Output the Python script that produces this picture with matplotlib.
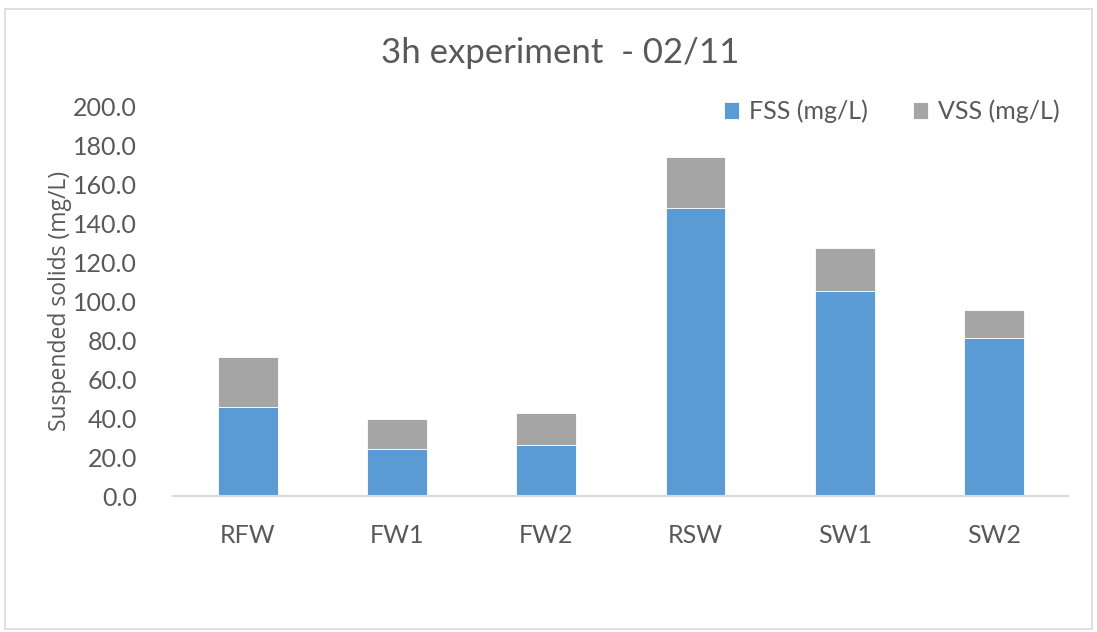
import matplotlib.pyplot as plt
from matplotlib.patches import Rectangle
import numpy as np

# Data
samples = ['RFW', 'FW1', 'FW2', 'RSW', 'SW1', 'SW2']
fss = [45.8, 24.3, 26.4, 147.9, 105.1, 81.0]
vss = [25.3, 15.0, 16.3, 26.2, 22.1, 14.4]

plt.rcParams['font.family'] = ['Lato', 'DejaVu Sans']
text_col = '#595959'

fig = plt.figure(figsize=(10.97, 6.32), dpi=100)
ax = fig.add_axes([0.158, 0.215, 0.816, 0.617])

x = np.arange(len(samples))
ax.bar(x, fss, width=0.4, color='#5B9BD5', edgecolor='white', linewidth=0.6, label='FSS (mg/L)')
ax.bar(x, vss, width=0.4, bottom=fss, color='#A5A5A5', edgecolor='white', linewidth=0.6, label='VSS (mg/L)')

ax.set_xlim(-0.5, len(samples) - 0.5)
ax.set_ylim(0, 200)
ax.set_yticks(np.arange(0, 201, 20))
ax.set_yticklabels([f'{v:.1f}' for v in np.arange(0, 201, 20)])
ax.set_xticks(x)
ax.set_xticklabels(samples)
ax.tick_params(axis='both', length=0, labelsize=18, colors=text_col)
ax.tick_params(axis='x', pad=20)
ax.tick_params(axis='y', pad=26)

for s in ['top', 'right', 'left']:
    ax.spines[s].set_visible(False)
ax.spines['bottom'].set_color('#D9D9D9')
ax.spines['bottom'].set_linewidth(1.5)

ax.set_ylabel('Suspended solids (mg/L)', fontsize=16.5, color=text_col, labelpad=1,
              family=['Open Sans', 'DejaVu Sans'])
fig.text(0.511, 0.916, '3h experiment  - 02/11', ha='center', va='center', fontsize=25, color=text_col)

leg = ax.legend(loc='upper right', bbox_to_anchor=(1.015, 1.075), ncol=2, frameon=False,
                fontsize=18, handlelength=0.6, handleheight=0.7, columnspacing=1.8, handletextpad=0.4)
for t in leg.get_texts():
    t.set_color(text_col)

fig.patches.append(Rectangle((0.005, 0.005), 0.99, 0.98, transform=fig.transFigure,
                             fill=False, edgecolor='#D9D9D9', linewidth=1.2))

fig.savefig('out.png', dpi=100, facecolor='white')
